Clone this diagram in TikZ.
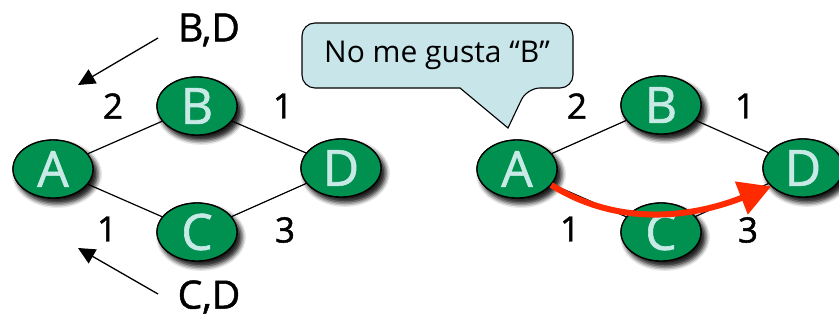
\documentclass[tikz,border=0pt]{standalone}
\usepackage{fontspec}
\setmainfont{Open Sans}
\newfontfamily\heavyfont{Open Sans}[FakeBold=1.2]
\usetikzlibrary{arrows.meta,shadows.blur,shapes.geometric}
\definecolor{nodegreen}{HTML}{009050}
\definecolor{lettercol}{HTML}{C8EAE6}
\definecolor{calloutfill}{HTML}{C8E6EA}
\definecolor{redarrow}{HTML}{FF2A00}
\tikzset{
  router/.style={ellipse, draw=black, line width=1.3pt, fill=nodegreen,
    minimum width=80pt, minimum height=58pt, inner sep=0pt,
    text=lettercol, font=\heavyfont\fontsize{50}{50}\selectfont,
    blur shadow={shadow xshift=4pt, shadow yshift=-5pt, shadow blur radius=5pt, shadow opacity=70}},
  link/.style={draw=black, line width=1.2pt},
  weight/.style={font=\heavyfont\fontsize{35}{35}\selectfont, text=black, inner sep=0pt},
  dest/.style={font=\heavyfont\fontsize{39}{39}\selectfont, text=black, inner sep=0pt},
  advert/.style={draw=black, line width=1.3pt, -{Triangle[length=17pt,width=16pt]}},
  callout/.style={draw=black, line width=1.1pt, fill=calloutfill},
  redpath/.style={draw=redarrow, line width=6pt, -{Triangle[length=32pt,width=34pt]}}
}
\begin{document}
\begin{tikzpicture}[x=1pt,y=-1pt]
\useasboundingbox (0,0) rectangle (839,320);
% left graph
\node[router] (A1) at (53,169) {A};
\node[router] (B1) at (197,106) {B};
\node[router] (C1) at (197,232) {C};
\node[router] (D1) at (341,168) {D};
\draw[link] (A1) -- (B1);
\draw[link] (B1) -- (D1);
\draw[link] (A1) -- (C1);
\draw[link] (C1) -- (D1);
\node[router] at (53,169) {A};
\node[router] at (197,106) {B};
\node[router] at (197,232) {C};
\node[router] at (341,168) {D};
\node[weight] (w1) at (113,106) {2};
\node[weight] (w2) at (283,106) {1};
\node[weight] (w3) at (107,229) {1};
\node[weight] (w4) at (285,230) {3};
\node[dest] (bd) at (209,30) {B,D};
\node[dest] (cd) at (209,297) {C,D};
\coordinate (t1) at (78,85);
\coordinate (t2) at (78,248);
\draw[advert] (158,38) -- (t1);
\draw[advert] (158,294) -- (t2);
% right graph
\node[router] (A2) at (517,169) {A};
\node[router] (B2) at (661,105) {B};
\node[router] (C2) at (661,232) {C};
\node[router] (D2) at (803,168) {D};
\draw[link] (A2) -- (B2);
\draw[link] (B2) -- (D2);
\draw[link] (A2) -- (C2);
\draw[link] (C2) -- (D2);
\node[router] at (517,169) {A};
\node[router] at (661,105) {B};
\node[router] at (661,232) {C};
\node[router] at (803,168) {D};
\node[weight] (w5) at (577,106) {2};
\node[weight] (w6) at (745,106) {1};
\node[weight] (w7) at (570,229) {1};
\node[weight] (w8) at (748,230) {3};
% callout
\draw[callout] (508,128) -- (460,88) [rounded corners=13pt] -- (302,88) -- (302,23) -- (573,23) -- (573,88) -- (527,88) [sharp corners] -- cycle;
\node[font=\fontsize{30}{30}\selectfont] (say) at (437,55) {No me gusta “B”};
% red path
\draw[redpath] (A2.-25) .. controls (610,222) and (680,222) .. (D2.210);
\end{tikzpicture}
\end{document}
